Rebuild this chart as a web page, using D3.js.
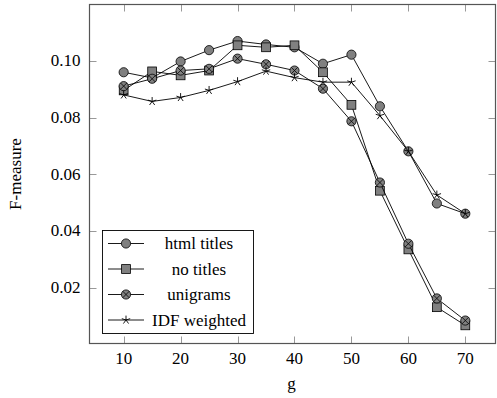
<!DOCTYPE html>
<html>
<head>
<meta charset="utf-8">
<script src="https://cdn.jsdelivr.net/npm/d3@7"></script>
</head>
<body style="margin:0">
<svg width="497" height="398"></svg>
<script>
let gValues = [10, 15, 20, 25, 30, 35, 40, 45, 50, 55, 60, 65, 70];
let htmlTitles = [0.0960, 0.0940, 0.0998, 0.1038, 0.1070, 0.1058, 0.1048, 0.0990, 0.1022, 0.0840, 0.0681, 0.0497, 0.0461];
let noTitles = [0.0896, 0.0963, 0.0949, 0.0966, 0.1055, 0.1048, 0.1055, 0.0960, 0.0845, 0.0542, 0.0335, 0.0131, 0.0067];
let unigrams = [0.0911, 0.0937, 0.0966, 0.0972, 0.1008, 0.0988, 0.0966, 0.0902, 0.0787, 0.0571, 0.0355, 0.0162, 0.0084];
let idfWeighted = [0.0880, 0.0857, 0.0871, 0.0896, 0.0927, 0.0964, 0.0941, 0.0925, 0.0925, 0.0807, 0.0681, 0.0527, 0.0461];
let seriesNames = ["html titles", "no titles", "unigrams", "IDF weighted"];
let xTicks = [10, 20, 30, 40, 50, 60, 70];
let yTicks = [0.02, 0.04, 0.06, 0.08, 0.10];

let svg = d3.select("svg");
let box = {left: 89.5, right: 495.5, top: 4.5, bottom: 343.5};
let fontSize = 17;

let x = d3.scaleLinear().domain([4, 75.3]).range([box.left, box.right]);
let y = d3.scaleLinear().domain([0.0003, 0.1199]).range([box.bottom, box.top]);

// add a serif text and align it by measuring it (k = 0.5 centre, 1 right)
function addText(parent, px, py, str, k) {
    let t = parent.append("text")
        .style("font-family", "'Liberation Serif'")
        .attr("font-size", fontSize)
        .attr("y", py)
        .text(str);
    let w = t.node().getComputedTextLength();
    t.attr("x", px - w * k);
    return t;
}

// tick marks, drawn inside the box on all four sides
let tickLen = 7;
let ticks = svg.append("g").attr("stroke", "#999").attr("stroke-width", 1);
xTicks.forEach(function (t) {
    let px = Math.round(x(t)) + 0.5;
    ticks.append("line").attr("x1", px).attr("x2", px).attr("y1", box.bottom).attr("y2", box.bottom - tickLen);
    ticks.append("line").attr("x1", px).attr("x2", px).attr("y1", box.top).attr("y2", box.top + tickLen);
});
yTicks.forEach(function (t) {
    let py = Math.round(y(t)) + 0.5;
    ticks.append("line").attr("x1", box.left).attr("x2", box.left + tickLen).attr("y1", py).attr("y2", py);
    ticks.append("line").attr("x1", box.right).attr("x2", box.right - tickLen).attr("y1", py).attr("y2", py);
});

// tick labels
let labels = svg.append("g");
xTicks.forEach(function (t) {
    addText(labels, x(t), box.bottom + 20, String(t), 0.5);
});
yTicks.forEach(function (t) {
    addText(labels, box.left - 9, y(t) + 5.5, d3.format(".2f")(t), 1);
});

// axis titles
addText(svg, (box.left + box.right) / 2 - 1, 389, "g", 0.5);
let yTitle = svg.append("g")
    .attr("transform", "translate(21," + ((box.top + box.bottom) / 2) + ") rotate(-90)");
addText(yTitle, 0, 0, "F-measure", 0.5);

// markers
function drawMark(sel, kind, cx, cy) {
    let g = sel.append("g").attr("transform", "translate(" + cx + "," + cy + ")");
    if (kind === 0) {
        g.append("circle").attr("r", 4.6).attr("fill", "#808080").attr("stroke", "#000").attr("stroke-width", 0.8);
    } else if (kind === 1) {
        g.append("rect").attr("x", -4.4).attr("y", -4.4).attr("width", 8.8).attr("height", 8.8)
            .attr("fill", "#808080").attr("stroke", "#000").attr("stroke-width", 0.8);
    } else if (kind === 2) {
        g.append("circle").attr("r", 4.6).attr("fill", "#808080").attr("stroke", "#000").attr("stroke-width", 0.8);
        let k = 4.6 * Math.SQRT1_2;
        g.append("path").attr("d", "M" + (-k) + "," + (-k) + "L" + k + "," + k + "M" + (-k) + "," + k + "L" + k + "," + (-k))
            .attr("stroke", "#000").attr("stroke-width", 0.8);
    } else {
        let d = "";
        for (let i = 0; i < 5; i++) {
            let a = -Math.PI / 2 + i * 2 * Math.PI / 5;
            d += "M0,0L" + (4.4 * Math.cos(a)) + "," + (4.4 * Math.sin(a));
        }
        g.append("path").attr("d", d).attr("stroke", "#000").attr("stroke-width", 0.9).attr("fill", "none");
    }
}

let allSeries = [htmlTitles, noTitles, unigrams, idfWeighted];
let line = d3.line()
    .x(function (d, i) { return x(gValues[i]); })
    .y(function (d) { return y(d); });

let plot = svg.append("g");
allSeries.forEach(function (vals, k) {
    plot.append("path")
        .attr("d", line(vals))
        .attr("fill", "none")
        .attr("stroke", "#000")
        .attr("stroke-width", 0.9);
    vals.forEach(function (v, i) {
        drawMark(plot, k, x(gValues[i]), y(v));
    });
});

// frame
svg.append("rect")
    .attr("x", box.left).attr("y", box.top)
    .attr("width", box.right - box.left).attr("height", box.bottom - box.top)
    .attr("fill", "none").attr("stroke", "#555").attr("stroke-width", 1.2);

// legend
let lg = svg.append("g");
lg.append("rect")
    .attr("x", 102.5).attr("y", 230.5).attr("width", 151).attr("height", 103)
    .attr("fill", "#fff").attr("stroke", "#000").attr("stroke-width", 0.9);
seriesNames.forEach(function (name, k) {
    let ry = 243.5 + k * 25.5;
    lg.append("line").attr("x1", 108).attr("x2", 144).attr("y1", ry).attr("y2", ry)
        .attr("stroke", "#000").attr("stroke-width", 0.9);
    drawMark(lg, k, 126, ry);
    addText(lg, 199, ry + 5.5, name, 0.5);
});
</script>
</body>
</html>
